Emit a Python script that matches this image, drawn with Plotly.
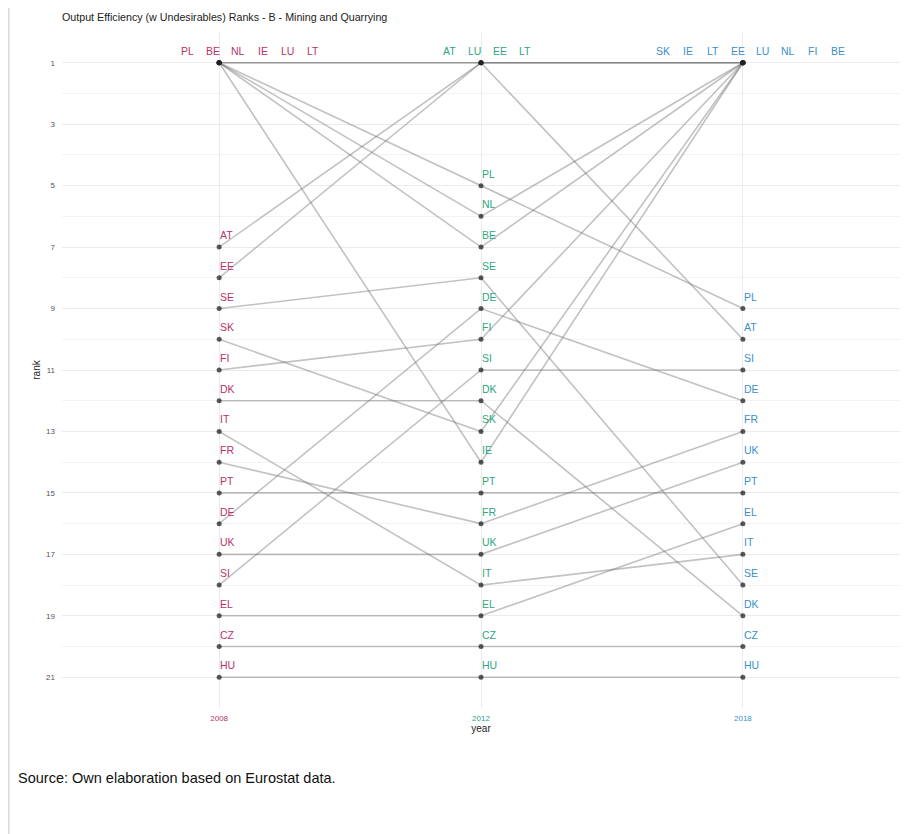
"""
Bump chart of output efficiency ranks
"""
import plotly.graph_objects as go

# Data
years = ["2008", "2012", "2018"]
countries = ["PL", "BE", "NL", "IE", "LU", "LT", "AT", "EE", "SE", "SK", "FI",
             "DK", "IT", "FR", "PT", "DE", "UK", "SI", "EL", "CZ", "HU"]
rank_2008 = [1, 1, 1, 1, 1, 1, 7, 8, 9, 10, 11, 12, 13, 14, 15, 16, 17, 18, 19, 20, 21]
rank_2012 = [5, 7, 6, 14, 1, 1, 1, 1, 8, 13, 10, 12, 18, 16, 15, 9, 17, 11, 19, 20, 21]
rank_2018 = [9, 1, 1, 1, 1, 1, 10, 1, 18, 1, 1, 19, 17, 13, 15, 12, 14, 11, 16, 20, 21]
# order in which the tied labels are printed above the top point
top_order = {
    "2008": ["PL", "BE", "NL", "IE", "LU", "LT"],
    "2012": ["AT", "LU", "EE", "LT"],
    "2018": ["SK", "IE", "LT", "EE", "LU", "NL", "FI", "BE"],
}
y_ticks = [1, 3, 5, 7, 9, 11, 13, 15, 17, 19, 21]
y_minor = [0, 2, 4, 6, 8, 10, 12, 14, 16, 18, 20, 22]

year_colors = {"2008": "#b8336a", "2012": "#2ea67f", "2018": "#3a8fcc"}
# where the first tied label sits, counted in label slots left of the point
tie_start = {"2008": 1.25, "2012": 1.25, "2018": 3.2}

ranks = {"2008": rank_2008, "2012": rank_2012, "2018": rank_2018}
xpos = {y: i for i, y in enumerate(years)}

# page is drawn with an 8px body offset, so layout is in figure pixels
L, T, W, H = 54, 24, 838, 676

fig = go.Figure()

# lines, one per country
for i, c in enumerate(countries):
    fig.add_trace(go.Scatter(
        x=[xpos[y] for y in years],
        y=[ranks[y][i] for y in years],
        mode="lines",
        line=dict(color="rgba(110,110,110,0.42)", width=1.6),
        hoverinfo="skip",
        showlegend=False
    ))

# points
for y in years:
    fig.add_trace(go.Scatter(
        x=[xpos[y]] * len(countries),
        y=ranks[y],
        mode="markers",
        marker=dict(color="rgba(35,35,35,0.75)", size=5),
        text=countries,
        showlegend=False
    ))

# labels
for y in years:
    for i, c in enumerate(countries):
        r = ranks[y][i]
        if r == 1:
            k = top_order[y].index(c)
            fig.add_annotation(x=xpos[y], y=r, text=c, showarrow=False,
                               xanchor="center", yanchor="middle",
                               xshift=(k - tie_start[y]) * 25, yshift=12,
                               font=dict(size=10.5, color=year_colors[y]))
        else:
            fig.add_annotation(x=xpos[y], y=r, text=c, showarrow=False,
                               xanchor="left", yanchor="middle",
                               xshift=-1, yshift=12,
                               font=dict(size=10.5, color=year_colors[y]))

# caption
fig.add_annotation(xref="paper", yref="paper", x=(8 - L) / W, y=(T + H - 770) / H,
                   text="Source: Own elaboration based on Eurostat data.",
                   showarrow=False, xanchor="left", yanchor="middle",
                   font=dict(family="Liberation Sans, Arial, sans-serif",
                             size=14.5, color="#111111"))

# left border of the frame
fig.add_shape(type="line", xref="paper", yref="paper",
              x0=(0.5 - L) / W, x1=(0.5 - L) / W, y0=(T + H - 834) / H, y1=(T + H) / H,
              line=dict(color="#d9d9d9", width=2))

fig.update_layout(
    width=912, height=834,
    margin=dict(l=L, r=912 - L - W, t=T, b=834 - T - H),
    paper_bgcolor="white", plot_bgcolor="white",
    font=dict(family="Liberation Sans, Arial, sans-serif"),
    title=dict(text="Output Efficiency (w Undesirables) Ranks - B - Mining and Quarrying",
               x=L / 912, xanchor="left", xref="container",
               y=1 - 9 / 834, yanchor="middle", yref="container",
               font=dict(size=10.7, color="#222222")),
    showlegend=False,
    xaxis=dict(
        range=[-0.6, 2.6],
        tickmode="array",
        tickvals=[xpos[y] for y in years],
        ticktext=[f'<span style="color:{year_colors[y]}">{y}</span>' for y in years],
        tickfont=dict(size=8),
        showgrid=True, gridcolor="#ebebeb", gridwidth=1,
        zeroline=False, showline=False, ticks="",
        ticklabelstandoff=4,
        title=dict(text="year", font=dict(size=10, color="#222222"), standoff=1),
    ),
    yaxis=dict(
        range=[22, 0],
        tickmode="array",
        tickvals=y_ticks,
        tickfont=dict(size=8, color="#555555"),
        showgrid=True, gridcolor="#ebebeb", gridwidth=1,
        minor=dict(tickvals=y_minor, showgrid=True, gridcolor="#f3f3f3", gridwidth=0.6),
        zeroline=False, showline=False, ticks="",
        ticklabelstandoff=6,
        title=dict(text="rank", font=dict(size=10, color="#222222"), standoff=3),
    ),
)

fig.write_html("out.html")
